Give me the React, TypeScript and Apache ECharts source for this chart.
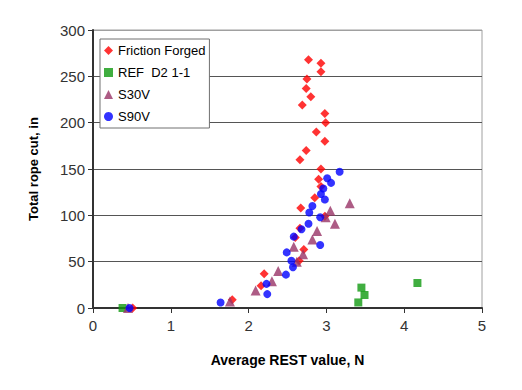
import React, { useEffect, useRef } from "react";
import * as echarts from "echarts";

const frictionForged: number[][] = [
  [2.77, 268], [2.93, 264], [2.93, 255], [2.75, 247], [2.74, 237], [2.80, 228],
  [2.69, 219], [2.98, 210], [2.99, 200], [2.87, 190], [2.98, 180], [2.74, 170],
  [2.66, 160], [2.93, 150], [2.90, 139], [2.93, 131], [2.85, 119], [2.67, 108],
  [2.98, 99], [2.66, 86], [2.60, 76], [2.71, 63], [2.65, 51], [2.20, 37],
  [2.16, 24], [1.79, 9], [0.51, 0],
];
const refD2: number[][] = [
  [0.38, 0], [3.45, 22], [3.49, 14], [3.41, 6], [4.17, 27],
];
const s30v: number[][] = [
  [3.30, 113], [3.05, 105], [2.99, 98], [3.11, 91], [2.88, 83], [2.82, 74],
  [2.58, 66], [2.70, 58], [2.62, 50], [2.38, 40], [2.30, 29], [2.09, 19],
  [1.76, 7], [0.45, 0],
];
const s90v: number[][] = [
  [3.17, 147], [3.01, 140], [3.06, 135], [2.96, 129], [2.93, 123], [2.98, 117],
  [2.82, 110], [2.78, 103], [2.92, 98], [2.77, 91], [2.68, 85], [2.58, 77],
  [2.92, 68], [2.49, 60], [2.55, 51], [2.57, 44], [2.48, 36], [2.23, 26],
  [2.24, 15], [1.64, 6], [0.47, 0],
];
const seriesNames = ["Friction Forged", "REF  D2 1-1", "S30V", "S90V"];
const xTitle = "Average REST value, N";
const yTitle = "Total rope cut, in";

const FONT = "'Liberation Sans', Arial, sans-serif";

export default function App() {
  const ref = useRef<HTMLDivElement>(null);
  useEffect(() => {
    if (!ref.current) return;
    const chart = echarts.init(ref.current, undefined, { renderer: "svg" });
    chart.setOption({
      animation: false,
      backgroundColor: "#ffffff",
      grid: {
        left: 93, right: 40, top: 30, bottom: 82,
        show: true, borderColor: "#a0a0a0", borderWidth: 1,
      },
      legend: {
        data: seriesNames,
        orient: "vertical",
        left: 100, top: 39,
        backgroundColor: "#ffffff",
        borderColor: "#707070", borderWidth: 1,
        padding: [5, 4, 5, 4],
        itemWidth: 9, itemHeight: 9, itemGap: 9,
        textStyle: { fontFamily: FONT, fontSize: 13, color: "#000" },
      },
      xAxis: {
        type: "value", min: 0, max: 5, interval: 1,
        name: xTitle, nameLocation: "middle", nameGap: 45,
        nameTextStyle: { fontFamily: FONT, fontSize: 14, fontWeight: "bold", color: "#000" },
        axisLine: { show: true, onZero: false, lineStyle: { color: "#333", width: 2 } },
        axisTick: { show: true, length: 5, lineStyle: { color: "#333" } },
        axisLabel: { fontFamily: FONT, fontSize: 15, color: "#333", margin: 10 },
        splitLine: { show: false },
      },
      yAxis: {
        type: "value", min: 0, max: 300, interval: 50,
        name: yTitle, nameLocation: "middle", nameGap: 53, nameRotate: 90,
        nameTextStyle: { fontFamily: FONT, fontSize: 13, fontWeight: "bold", color: "#000" },
        axisLine: { show: true, lineStyle: { color: "#333", width: 2 } },
        axisTick: { show: true, length: 5, lineStyle: { color: "#333" } },
        axisLabel: { fontFamily: FONT, fontSize: 15, color: "#333", margin: 8 },
        splitLine: {
          show: true,
          lineStyle: {
            color: ["#555", "#555", "#555", "#555", "#555", "#555", "#a0a0a0"],
            width: 1,
          },
        },
      },
      series: [
        {
          name: seriesNames[0], type: "scatter", data: frictionForged,
          symbol: "diamond", symbolSize: 9, itemStyle: { color: "#ff0000" },
        },
        {
          name: seriesNames[1], type: "scatter", data: refD2,
          symbol: "rect", symbolSize: 8, itemStyle: { color: "#109a10" },
        },
        {
          name: seriesNames[2], type: "scatter", data: s30v,
          symbol: "triangle", symbolSize: 10, itemStyle: { color: "#993366" },
        },
        {
          name: seriesNames[3], type: "scatter", data: s90v,
          symbol: "circle", symbolSize: 8, itemStyle: { color: "#0000ff" },
        },
      ],
    });
    return () => chart.dispose();
  }, []);
  return <div ref={ref} style={{ width: 522, height: 390, position: "absolute", left: 0, top: 0 }} />;
}
